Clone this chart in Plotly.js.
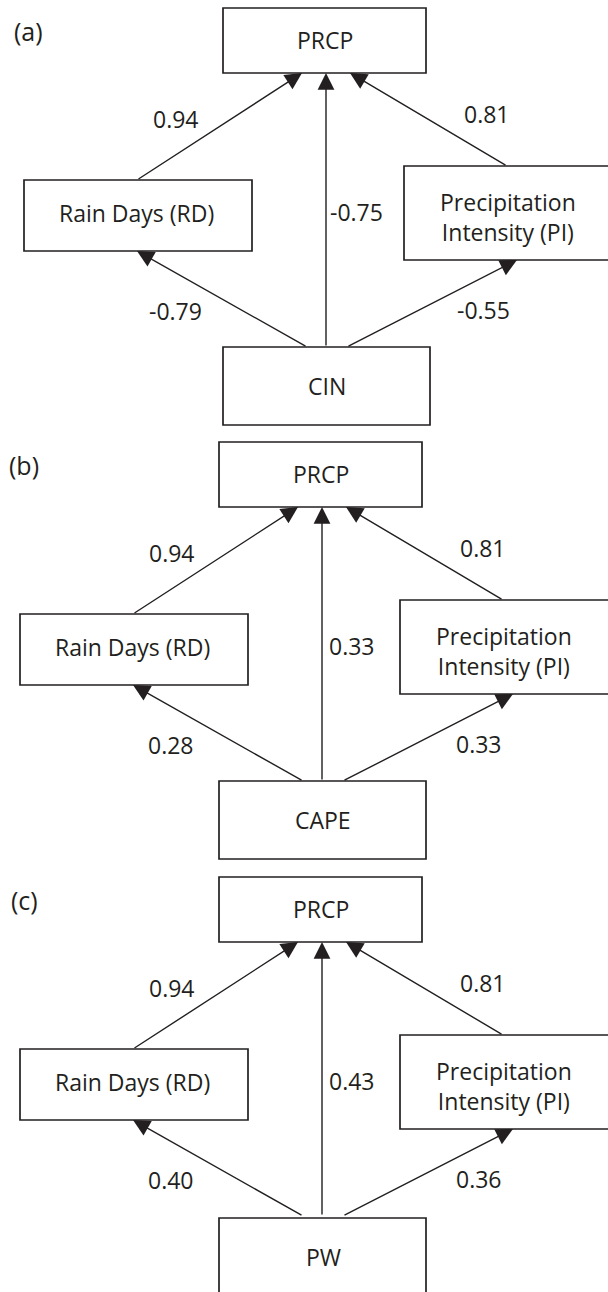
<!DOCTYPE html>
<html>
<head>
<meta charset="utf-8">
<script src="https://cdn.plot.ly/plotly-3.0.1.min.js"></script>
<style>html,body{margin:0;padding:0;background:#fff;}#chart{width:608px;height:1292px;}</style>
</head>
<body>
<div id="chart"></div>
<script>
// ---- data ----
const panelLabels = ["(a)", "(b)", "(c)"];
const outcomeName = "PRCP";
const rdName = "Rain Days (RD)";
const piName = "Precipitation<br>Intensity (PI)";
const drivers = ["CIN", "CAPE", "PW"];
const coefRdToPrcp = [0.94, 0.94, 0.94];
const coefPiToPrcp = [0.81, 0.81, 0.81];
const coefDriverToPrcp = [-0.75, 0.33, 0.43];
const coefDriverToRd = [-0.79, 0.28, 0.40];
const coefDriverToPi = [-0.55, 0.33, 0.36];

// ---- layout geometry (pixel-like data coordinates of panel (a)) ----
const geom = {
  panelOffsets: [[0, 0], [-4, 434], [-4, 869]],
  label: [28, 31],
  prcp: [223, 8, 426, 73],
  rd: [24, 180, 252, 251],
  pi: [404, 166, 640, 260],
  drv: [223, 347, 430, 425],
  arrows: {
    rdPrcp: [137, 180, 302, 73],
    drvPrcp: [326, 347, 326, 73],
    piPrcp: [507, 166, 350, 73],
    drvRd: [307, 347, 137, 251],
    drvPi: [347, 347, 517, 260]
  },
  coefPos: {
    rdPrcp: [176, 119],
    piPrcp: [487, 114],
    drvPrcp: [356, 212],
    drvRd: [175, 311],
    drvPi: [483, 310]
  }
};

const ink = "#231f20";
const FONT = "Open Sans, Noto Sans, sans-serif";
const shapes = [];
const annotations = [];

function box(b, dx, dy) {
  shapes.push({type: "rect", xref: "x", yref: "y",
    x0: b[0] + dx, y0: b[1] + dy, x1: b[2] + dx, y1: b[3] + dy,
    line: {color: ink, width: 1.7}, fillcolor: "rgba(0,0,0,0)"});
}
function label(text, x, y, size) {
  annotations.push({x: x, y: y, xref: "x", yref: "y", text: text, showarrow: false,
    xanchor: "center", yanchor: "middle", font: {family: FONT, size: size || 23, color: ink}});
}
function arrow(a, dx, dy) {
  annotations.push({x: a[2] + dx, y: a[3] + dy, ax: a[0] + dx, ay: a[1] + dy,
    xref: "x", yref: "y", axref: "x", ayref: "y", text: "", showarrow: true,
    arrowhead: 2, arrowsize: 2.4, arrowwidth: 1.4, arrowcolor: ink, standoff: 0, startstandoff: 0});
}

for (let i = 0; i < drivers.length; i++) {
  const [dx, dy] = geom.panelOffsets[i];
  box(geom.prcp, dx, dy);
  box(geom.rd, dx, dy);
  box(geom.pi, dx, dy);
  box(geom.drv, dx, dy + (i === 2 ? 2 : 0));
  label(panelLabels[i], geom.label[0] + dx, geom.label[1] + dy, 25);
  label(outcomeName, (geom.prcp[0] + geom.prcp[2]) / 2 + dx, 40 + dy);
  label(rdName, 136 + dx, 213 + dy);
  label(piName, 508 + dx, 217 + dy);
  label(drivers[i], 327 + dx, 386 + dy + (i === 2 ? 2 : 0));
  const A = geom.arrows;
  arrow(A.rdPrcp, dx, dy);
  arrow(A.drvPrcp, dx, dy);
  arrow(A.piPrcp, dx, dy);
  arrow(A.drvRd, dx, dy);
  arrow(A.drvPi, dx, dy);
  const C = geom.coefPos;
  label(coefRdToPrcp[i].toFixed(2), C.rdPrcp[0] + dx, C.rdPrcp[1] + dy);
  label(coefPiToPrcp[i].toFixed(2), C.piPrcp[0] + dx, C.piPrcp[1] + dy);
  label(coefDriverToPrcp[i].toFixed(2), C.drvPrcp[0] + dx, C.drvPrcp[1] + dy);
  label(coefDriverToRd[i].toFixed(2), C.drvRd[0] + dx, C.drvRd[1] + dy);
  label(coefDriverToPi[i].toFixed(2), C.drvPi[0] + dx, C.drvPi[1] + dy);
}

const layout = {
  width: 608, height: 1292,
  margin: {l: 0, r: 0, t: 0, b: 0, pad: 0},
  paper_bgcolor: "#ffffff", plot_bgcolor: "#ffffff",
  showlegend: false,
  xaxis: {range: [0, 608], visible: false, fixedrange: true},
  yaxis: {range: [1292, 0], visible: false, fixedrange: true},
  shapes: shapes,
  annotations: annotations
};
Plotly.newPlot("chart", [{x: [], y: [], type: "scatter", mode: "markers", hoverinfo: "skip"}], layout,
  {staticPlot: true, displayModeBar: false});
</script>
</body>
</html>
